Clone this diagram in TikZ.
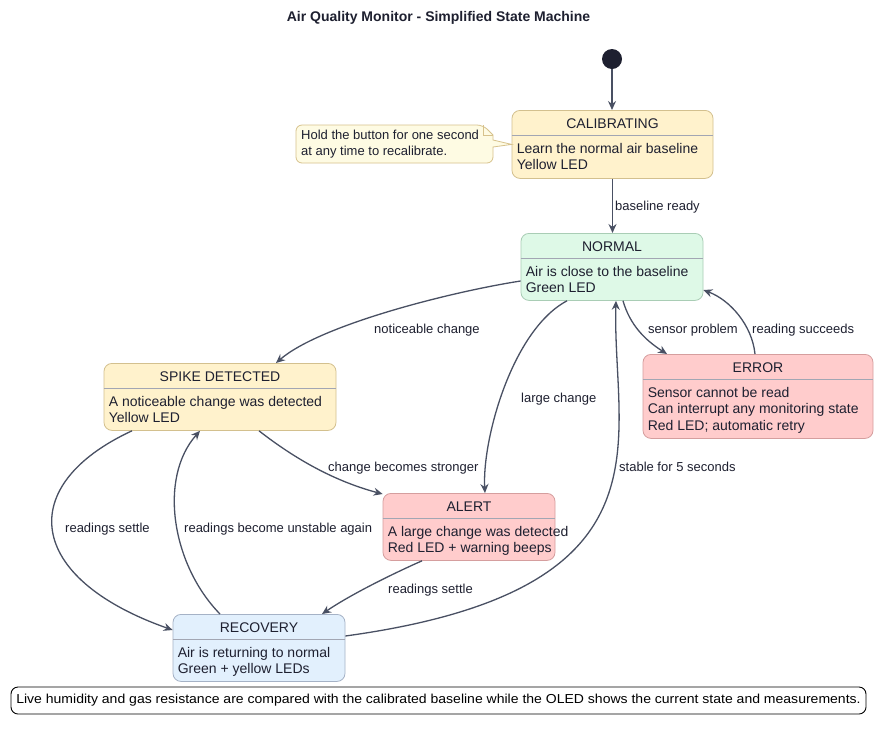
\documentclass[tikz,border=0pt]{standalone}
\usepackage{fontspec}
\setmainfont{Liberation Sans}
\usetikzlibrary{arrows.meta}
\definecolor{ink}{HTML}{1E2030}
\definecolor{wire}{HTML}{495063}
\definecolor{sepgray}{HTML}{A2A6B3}
\definecolor{sunfill}{HTML}{FFF2CC}
\definecolor{sunline}{HTML}{D3C08E}
\definecolor{mintfill}{HTML}{DEF9E7}
\definecolor{mintline}{HTML}{A9CDB5}
\definecolor{rosefill}{HTML}{FFCCCC}
\definecolor{roseline}{HTML}{D59E9E}
\definecolor{skyfill}{HTML}{E2F0FD}
\definecolor{skyline}{HTML}{A5B2C6}
\definecolor{notefill}{HTML}{FEFBE3}
\definecolor{noteline}{HTML}{D7C28C}
\newcommand{\statefont}{\fontsize{14}{16.5}\selectfont}
% state box: name, centre x, top y, width, height, fill, line, title, body
\newcommand{\statebox}[9]{%
  \node[statebox,fill=#6,draw=#7,minimum width=#4,minimum height=#5,anchor=north] (#1) at (#2,#3) {};
  \draw[sepgray,line width=0.8pt] ([yshift=-25.5]#1.north west) -- ([yshift=-25.5]#1.north east);
  \node[font=\statefont,text=ink] (#1-head) at ([yshift=-13.5]#1.north) {#8};
  \node[font=\statefont,text=ink,anchor=north west,align=left,inner sep=0pt] (#1-body) at ([xshift=5,yshift=-33]#1.north west) {#9};
}

\begin{document}
\begin{tikzpicture}[x=1pt,y=-1pt,
  statebox/.style={rectangle,rounded corners=8pt,line width=0.8pt,inner sep=0pt},
  wirearrow/.style={draw=wire,line width=1.3pt,-{Stealth[length=9pt,width=8pt,inset=3pt]}},
  lbl/.style={font=\fontsize{13}{15}\selectfont,text=ink,anchor=west,inner sep=0pt,text height=9.5pt,text depth=2.8pt,yshift=-1.8pt}]
  \fill[white] (0,0) rectangle (883,732);
  \useasboundingbox (0,0) rectangle (883,732);
  \node[font=\fontsize{14}{16}\selectfont\bfseries,text=ink] (title) at (438.5,18) {Air Quality Monitor - Simplified State Machine};
  \node[circle,fill=ink,minimum size=20pt,inner sep=0pt] (init) at (612,59) {};
  % states
  \statebox{cal}{612.5}{110}{201}{68}{sunfill}{sunline}{CALIBRATING}{Learn the normal air baseline\\Yellow LED}
  \statebox{nor}{612}{233}{182}{67}{mintfill}{mintline}{NORMAL}{Air is close to the baseline\\Green LED}
  \statebox{spk}{220}{363}{232}{67}{sunfill}{sunline}{SPIKE DETECTED}{A noticeable change was detected\\Yellow LED}
  \statebox{err}{758}{354}{230}{84}{rosefill}{roseline}{ERROR}{Sensor cannot be read\\Can interrupt any monitoring state\\Red LED; automatic retry}
  \statebox{alr}{469}{493}{172}{67}{rosefill}{roseline}{ALERT}{A large change was detected\\Red LED + warning beeps}
  \statebox{rec}{259}{614}{172}{67}{skyfill}{skyline}{RECOVERY}{Air is returning to normal\\Green + yellow LEDs}
  % note beside calibrating
  \draw[fill=notefill,draw=noteline,line width=0.8pt,rounded corners=6pt] (296,144) -- (296,125) -- (483,125) [sharp corners] -- (493,135) -- (493,140) -- (cal.west) -- (493,147) [rounded corners=6pt] -- (493,163) -- (296,163) -- cycle;
  \draw[draw=noteline,line width=0.8pt] (483,125) -- (483,135) -- (493,135);
  \node[font=\fontsize{13}{16}\selectfont,text=ink,align=left,anchor=north west,inner sep=0pt] (hint) at (301,130) {Hold the button for one second\\at any time to recalibrate.};
  % transitions
  \draw[wirearrow] (init) -- (init |- cal.north);
  \draw[wirearrow] (cal.south) -- (cal.south |- nor.north);
  \draw[wirearrow] ([yshift=-48]nor.north west) .. controls (450,292) and (320,325) .. ([xshift=56]spk.north);
  \draw[wirearrow] ([xshift=-45]nor.south) .. controls (512,330) and (482,440) .. ([xshift=16]alr.north);
  \draw[wirearrow] ([xshift=11]nor.south) .. controls (630,325) and (645,340) .. ([xshift=-91]err.north);
  \draw[wirearrow] ([xshift=-3]err.north) .. controls (752,325) and (730,300) .. ([yshift=-57]nor.north east);
  \draw[wirearrow] ([xshift=39]spk.south) .. controls (290,455) and (330,480) .. ([yshift=-1]alr.north west);
  \draw[wirearrow] ([xshift=-88]spk.south) .. controls (15,485) and (25,578) .. ([yshift=-16]rec.north west);
  \draw[wirearrow] ([xshift=-39]rec.north) .. controls (172,565) and (158,478) .. ([xshift=-20]spk.south);
  \draw[wirearrow] ([xshift=-47]alr.south) .. controls (390,575) and (350,595) .. ([xshift=63]rec.north);
  \draw[wirearrow] ([yshift=-22]rec.north east) .. controls (680,590) and (612,440) .. ([xshift=4]nor.south);
  % transition labels
  \foreach \n/\x/\y/\t in {l-ready/615/205/baseline ready, l-notice/374/328/noticeable change,
    l-large/521/397/large change, l-sensor/648/328/sensor problem, l-ok/752/328/reading succeeds,
    l-strong/328/466/change becomes stronger, l-settle/65/527/readings settle,
    l-unstable/184/527/readings become unstable again, l-calm/388/588/readings settle,
    l-stable/619/466/stable for 5 seconds}
    {\node[lbl] (\n) at (\x,\y) {\t};}
  \node[draw=black,line width=0.9pt,rounded corners=7pt,fill=white,minimum width=855pt,minimum height=27pt,inner sep=0pt,font=\fontsize{13}{15}\selectfont,text=black] (legend) at (438.5,700.5) {\scalebox{1.078}[1]{Live humidity and gas resistance are compared with the calibrated baseline while the OLED shows the current state and measurements.}};
\end{tikzpicture}
\end{document}
